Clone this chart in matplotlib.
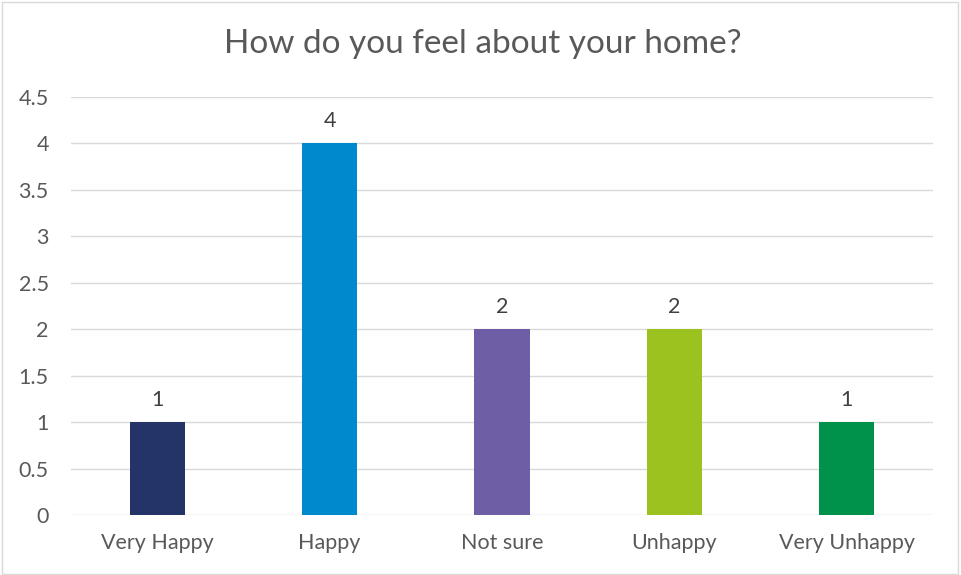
import matplotlib
matplotlib.use("Agg")
import matplotlib.pyplot as plt
from matplotlib.patches import Rectangle

categories = ["Very Happy", "Happy", "Not sure", "Unhappy", "Very Unhappy"]
values = [1, 4, 2, 2, 1]
colors = ["#243469", "#0089CC", "#6E5EA6", "#9BC21F", "#00914B"]
yticks = [0, 0.5, 1, 1.5, 2, 2.5, 3, 3.5, 4, 4.5]
ytick_labels = ["0", "0.5", "1", "1.5", "2", "2.5", "3", "3.5", "4", "4.5"]
title = "How do you feel about your home?"

plt.rcParams['font.family'] = ['Lato', 'DejaVu Sans']
W, H = 961, 575
fig = plt.figure(figsize=(W / 100, H / 100), dpi=100)
fig.patches.append(Rectangle((2 / W, 1 / H), (W - 5) / W, (H - 3) / H, transform=fig.transFigure,
                             fill=False, edgecolor="#D9D9D9", linewidth=1))

left, right, top, bottom = 71, 933, 97, 515
ax = fig.add_axes([left / W, (H - bottom) / H, (right - left) / W, (bottom - top) / H])
x = list(range(len(categories)))
ax.bar(x, values, width=0.32, color=colors, zorder=3)
ax.set_xlim(-0.5, len(categories) - 0.5)
ax.set_ylim(0, 4.5)
ax.set_yticks(yticks)
ax.set_yticklabels(ytick_labels)
ax.set_xticks(x)
ax.set_xticklabels(categories)
ax.grid(axis='y', color="#D9D9D9", linewidth=1, zorder=0)
for s in ax.spines.values():
    s.set_visible(False)
ax.tick_params(axis='both', length=0, labelsize=15.5, colors="#595959")
ax.tick_params(axis='y', pad=16)
ax.tick_params(axis='x', pad=13)
for xi, v in zip(x, values):
    ax.annotate(str(v), (xi, v), xytext=(0, 9), textcoords='offset points',
                ha='center', va='bottom', fontsize=15.5, color="#404040")
fig.text(483 / W, 1 - 44 / H, title, ha='center', va='center', fontsize=24, color="#595959")
fig.savefig("out.png", dpi=100)
